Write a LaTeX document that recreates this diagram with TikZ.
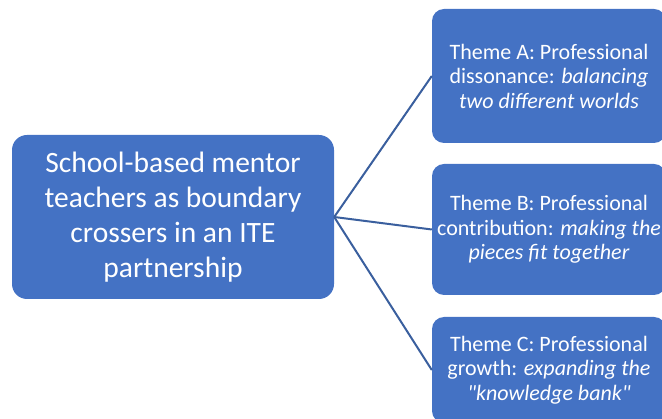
\documentclass[tikz,border=0pt]{standalone}
\usepackage{fontspec}
\setmainfont{Carlito}[Ligatures=TeXOff]
\definecolor{boxblue}{HTML}{4472C4}
\definecolor{linkblue}{HTML}{3A5F9E}
\begin{document}
\begin{tikzpicture}[x=1pt,y=-1pt,
  box/.style={draw=none, fill=boxblue, text=white, align=center, inner sep=0pt},
  mainbox/.style={box, rounded corners=15pt, minimum width=322pt, minimum height=164pt,
    font=\fontsize{29.5}{35}\selectfont},
  themebox/.style={box, rounded corners=12pt, minimum width=234pt,
    font=\fontsize{22}{24.5}\selectfont},
  link/.style={draw=linkblue, line width=2pt}]
\useasboundingbox (0,0) rectangle (662,419);
\clip (0,0) rectangle (662,419);

% central concept
\node[mainbox] (main) at (173,217)
  {School-based mentor\\teachers as boundary\\crossers in an ITE\\partnership};

% the three themes
\node[themebox, minimum height=134pt] (themeA) at (549,76)
  {Theme A: Professional\\dissonance: \textit{balancing}\\\textit{two different worlds}};
\node[themebox, minimum height=131pt] (themeB) at (549,229.5)
  {Theme B: Professional\\contribution: \textit{making the}\\\textit{pieces fit together}};
\node[themebox, minimum height=106pt] (themeC) at (549,370)
  {Theme C: Professional\\growth: \textit{expanding the}\\\textit{"knowledge bank"}};

% connectors
\draw[link] (main.east) -- (themeA.west);
\draw[link] (main.east) -- (themeB.west);
\draw[link] (main.east) -- (themeC.west);
\end{tikzpicture}
\end{document}
